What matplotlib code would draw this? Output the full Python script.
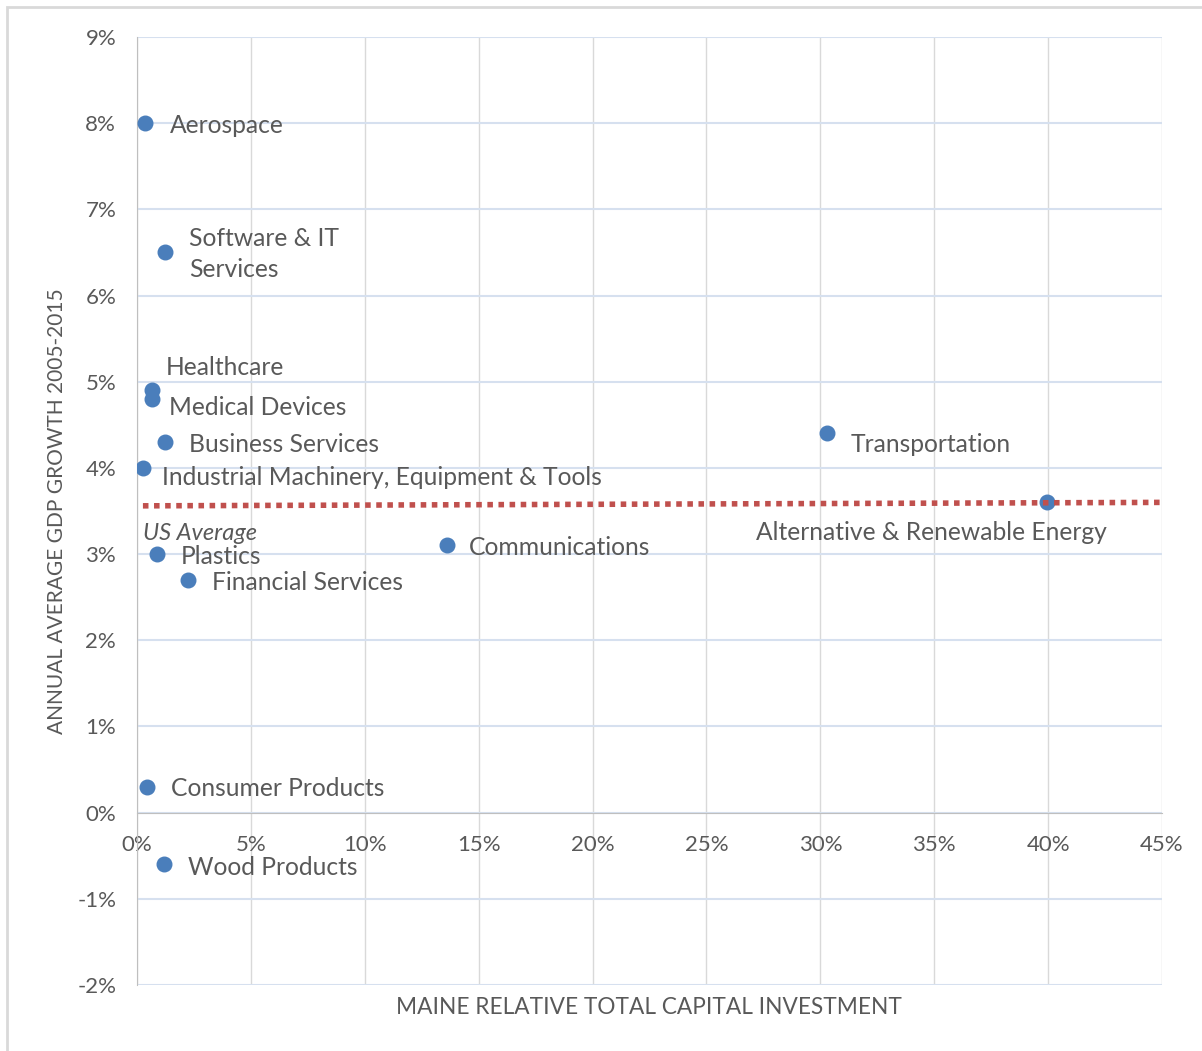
import matplotlib
matplotlib.use('Agg')
import matplotlib.pyplot as plt
from matplotlib.ticker import FuncFormatter, MultipleLocator
from matplotlib.patches import Rectangle

# data (percent)
sectors = ['Aerospace', 'Software & IT\nServices', 'Healthcare', 'Medical Devices',
           'Business Services', 'Industrial Machinery, Equipment & Tools', 'Plastics',
           'Financial Services', 'Communications', 'Transportation',
           'Alternative & Renewable Energy', 'Consumer Products', 'Wood Products']
capital_investment = [0.35, 1.23, 0.66, 0.66, 1.23, 0.26, 0.88, 2.24, 13.6, 30.3, 39.95, 0.44, 1.19]
gdp_growth = [8.0, 6.5, 4.9, 4.8, 4.3, 4.0, 3.0, 2.7, 3.1, 4.4, 3.6, 0.3, -0.6]
us_avg_x = [0.26, 45.0]
us_avg_y = [3.56, 3.60]

# label offsets in points (dx, dy, horizontal alignment)
label_offsets = [(18, -1.5, 'left'), (17, -1, 'left'), (10, 16.5, 'left'), (12, -6.5, 'left'),
                 (17, -1.5, 'left'), (14, -7, 'left'), (17, -2, 'left'), (17, -1.5, 'left'),
                 (16, -1.5, 'left'), (17, -8, 'left'), (-83, -21.5, 'center'), (17, -1.5, 'left'),
                 (17, -2, 'left')]

txt = '#595959'
plt.rcParams['font.family'] = ['Lato', 'DejaVu Sans']

fig = plt.figure(figsize=(12.02, 10.51), dpi=100)
fig.patches.append(Rectangle((7 / 1202, -0.1), 1.2, 1 - 7 / 1051 + 0.1, transform=fig.transFigure,
                             fill=False, edgecolor='#d9d9d9', linewidth=2))
ax = fig.add_axes([137 / 1202, 1 - 985 / 1051, 1025 / 1202, 948 / 1051])

ax.set_xlim(0, 45)
ax.set_ylim(-2, 9)
ax.xaxis.set_major_locator(MultipleLocator(5))
ax.yaxis.set_major_locator(MultipleLocator(1))
ax.xaxis.set_major_formatter(FuncFormatter(lambda v, p: '%d%%' % round(v)))
ax.yaxis.set_major_formatter(FuncFormatter(lambda v, p: '%d%%' % round(v)))

ax.grid(axis='y', color='#d6e0ef', linewidth=1.5)
ax.grid(axis='x', color='#d9d9d9', linewidth=1)
ax.set_axisbelow(True)
for s in ['top', 'right']:
    ax.spines[s].set_visible(False)
ax.spines['bottom'].set_position(('data', 0))
ax.spines['bottom'].set_color('#bfbfbf')
ax.spines['left'].set_color('#bfbfbf')
ax.tick_params(length=0, labelsize=16, colors=txt)
ax.tick_params(axis='y', pad=15)
ax.tick_params(axis='x', pad=16)

ax.plot(us_avg_x, us_avg_y, color='#c0504d', linewidth=4, linestyle=(0, (1, 1)), zorder=4)
ax.scatter(capital_investment, gdp_growth, s=110, color='#4a7ebb', zorder=3)
ax.annotate('US Average', (us_avg_x[0], us_avg_y[0]), xytext=(0, -20), textcoords='offset points',
            ha='left', va='center', fontsize=17, style='italic', color=txt)

for name, x, y, (dx, dy, ha) in zip(sectors, capital_investment, gdp_growth, label_offsets):
    ax.annotate(name, (x, y), xytext=(dx, dy), textcoords='offset points',
                ha=ha, va='center', fontsize=17.7, color=txt, linespacing=1.45)

fig.text(57 / 1202, 1 - 511 / 1051, 'ANNUAL AVERAGE GDP GROWTH 2005-2015', rotation=90,
         ha='center', va='center', fontsize=15, color=txt)
fig.text(649 / 1202, 1 - 1007 / 1051, 'MAINE RELATIVE TOTAL CAPITAL INVESTMENT',
         ha='center', va='center', fontsize=16.3, color=txt)

fig.savefig('out.png', dpi=100)
